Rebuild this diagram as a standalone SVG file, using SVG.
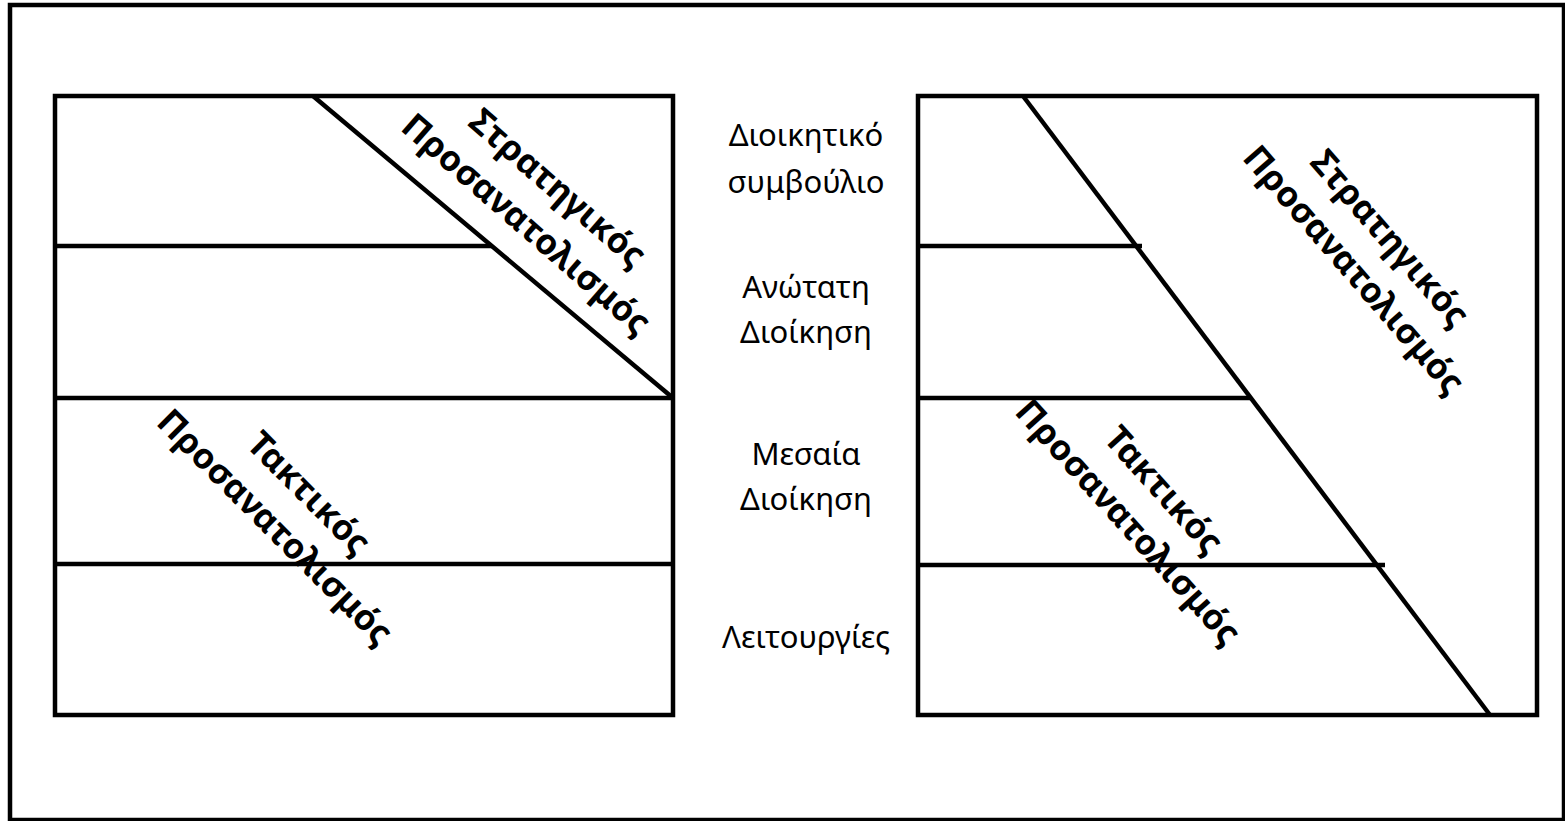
<svg xmlns="http://www.w3.org/2000/svg" width="1565" height="821" viewBox="0 0 1565 821">
  <style>
    .frame { fill: none; stroke: #000; stroke-width: 4.5; }
    .edge { fill: none; stroke: #000; stroke-width: 4.5; stroke-linecap: butt; }
    .level { font-family: "Noto Sans", "Open Sans", sans-serif; font-size: 31px; fill: #000; text-anchor: middle; }
    .orient { font-family: "Noto Sans", "Open Sans", sans-serif; font-size: 35px; font-weight: bold; fill: #000; text-anchor: middle; }
  </style>
  <rect width="1565" height="821" fill="#fff"/>

  <!-- outer slide border -->
  <g id="border">
    <rect class="frame" x="10" y="5" width="1554" height="815"/>
  </g>

  <!-- left pyramid: strategic orientation limited to the top two tiers -->
  <g id="left-chart">
    <rect class="frame" x="55" y="96" width="618" height="619"/>
  </g>

  <!-- right pyramid: strategic orientation reaching every tier -->
  <g id="right-chart">
    <rect class="frame" x="918" y="96" width="619" height="619"/>
  </g>

  <g id="connectors">
    <!-- left chart dividers -->
    <line class="edge" x1="55" y1="246" x2="492" y2="246"/>
    <line class="edge" x1="55" y1="398" x2="673" y2="398"/>
    <line class="edge" x1="55" y1="564" x2="673" y2="564"/>
    <line class="edge" x1="313" y1="96" x2="673" y2="398"/>
    <!-- right chart dividers -->
    <line class="edge" x1="918" y1="246" x2="1142" y2="246"/>
    <line class="edge" x1="918" y1="398" x2="1251" y2="398"/>
    <line class="edge" x1="918" y1="565" x2="1385" y2="565"/>
    <line class="edge" x1="1023" y1="96" x2="1490" y2="715"/>
  </g>

  <!-- management levels between the two charts -->
  <g id="level-board">
    <text class="level" x="806" y="146">Διοικητικό</text>
    <text class="level" x="806" y="193">συμβούλιο</text>
  </g>
  <g id="level-top">
    <text class="level" x="806" y="298">Ανώτατη</text>
    <text class="level" x="806" y="343">Διοίκηση</text>
  </g>
  <g id="level-middle">
    <text class="level" x="806" y="465">Μεσαία</text>
    <text class="level" x="806" y="510">Διοίκηση</text>
  </g>
  <g id="level-operations">
    <text class="level" x="806" y="648">Λειτουργίες</text>
  </g>

  <!-- rotated orientation labels -->
  <g id="left-strategic" transform="translate(542,206) rotate(41)">
    <text class="orient" x="0" y="-12">Στρατηγικός</text>
    <text class="orient" x="0" y="36">Προσανατολισμός</text>
  </g>
  <g id="left-tactical" transform="translate(292,510) rotate(45)">
    <text class="orient" x="0" y="-12">Τακτικός</text>
    <text class="orient" x="0" y="36">Προσανατολισμός</text>
  </g>
  <g id="right-strategic" transform="translate(1372,254) rotate(49)">
    <text class="orient" x="0" y="-12">Στρατηγικός</text>
    <text class="orient" x="0" y="36">Προσανατολισμός</text>
  </g>
  <g id="right-tactical" transform="translate(1146,506) rotate(48)">
    <text class="orient" x="0" y="-12">Τακτικός</text>
    <text class="orient" x="0" y="36">Προσανατολισμός</text>
  </g>
</svg>
